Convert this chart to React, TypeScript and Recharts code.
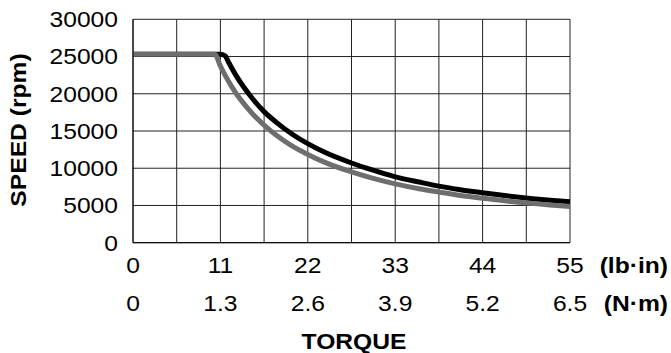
import { CartesianGrid, Line, LineChart, XAxis, YAxis } from "recharts";

const torqueTicks = [0, 5.5, 11, 16.5, 22, 27.5, 33, 38.5, 44, 49.5, 55];
const lbInLabels = ["0", "11", "22", "33", "44", "55"];
const nmLabels = ["0", "1.3", "2.6", "3.9", "5.2", "6.5"];
const speedTicks = [0, 5000, 10000, 15000, 20000, 25000, 30000];

const blackTorque = [0, 11, 11.6, 12, 13, 14, 15, 16.5, 18, 20, 22, 24, 27.5, 30, 33, 36, 38.5, 41, 44, 47, 50, 52.5, 55];
const blackSpeed = [25300, 25300, 25100, 24300, 22400, 20800, 19400, 17600, 16200, 14600, 13300, 12200, 10700, 9800, 8850, 8150, 7600, 7150, 6700, 6300, 5950, 5700, 5500];

const grayTorque = [0, 10.3, 11, 12, 13, 14, 15, 16.5, 18, 20, 22, 24, 27.5, 30, 33, 36, 38.5, 41, 44, 47, 50, 52.5, 55];
const graySpeed = [25300, 25300, 23700, 21700, 20000, 18600, 17350, 15800, 14450, 13000, 11850, 10850, 9500, 8700, 7900, 7250, 6800, 6380, 5980, 5600, 5300, 5050, 4850];

const blackData = blackTorque.map((t, i) => ({ torque: t, speed: blackSpeed[i] }));
const grayData = grayTorque.map((t, i) => ({ torque: t, speed: graySpeed[i] }));

const FONT = '"Liberation Sans", Arial, Helvetica, sans-serif';
const STRETCH = 1.12;
const FS = 22;

function YTick(props: any) {
  const { y, payload } = props;
  return (
    <g transform={`translate(118, ${y}) scale(${STRETCH},1)`}>
      <text x={0} y={0} dy="0.36em" textAnchor="end" fontFamily={FONT} fontSize={FS} fill="#000">
        {payload.value}
      </text>
    </g>
  );
}

function XTick(props: any) {
  const { x, index } = props;
  if (index % 2 !== 0) return <g />;
  const k = index / 2;
  return (
    <g>
      <g transform={`translate(${x}, 272.5) scale(${STRETCH},1)`}>
        <text x={0} y={0} textAnchor="middle" fontFamily={FONT} fontSize={FS} fill="#000">
          {lbInLabels[k]}
        </text>
      </g>
      <g transform={`translate(${x}, 311) scale(${STRETCH},1)`}>
        <text x={0} y={0} textAnchor="middle" fontFamily={FONT} fontSize={FS} fill="#000">
          {nmLabels[k]}
        </text>
      </g>
    </g>
  );
}

export default function App() {
  return (
    <div style={{ position: "absolute", left: 0, top: 0, width: 671, height: 353, background: "#fff" }}>
      <LineChart
        width={671}
        height={353}
        margin={{ top: 19.3, right: 101, left: 0, bottom: 0 }}
      >
        <CartesianGrid stroke="#222" strokeWidth={1} />
        <XAxis
          dataKey="torque"
          type="number"
          domain={[0, 55]}
          ticks={torqueTicks}
          interval={0}
          tick={<XTick />}
          tickLine={false}
          axisLine={{ stroke: "#000" }}
          height={110.3}
          allowDuplicatedCategory={false}
        />
        <YAxis
          type="number"
          domain={[0, 30000]}
          ticks={speedTicks}
          interval={0}
          tick={<YTick />}
          tickLine={false}
          axisLine={{ stroke: "#000" }}
          width={133}
        />
        <Line
          data={blackData}
          dataKey="speed"
          type="monotone"
          stroke="#000"
          strokeWidth={5}
          dot={false}
          isAnimationActive={false}
        />
        <Line
          data={grayData}
          dataKey="speed"
          type="monotone"
          stroke="#6e6e6e"
          strokeWidth={5}
          dot={false}
          isAnimationActive={false}
        />
      </LineChart>
      <svg
        width={671}
        height={353}
        style={{ position: "absolute", left: 0, top: 0, pointerEvents: "none" }}
      >
        <g transform={`translate(668, 272.5) scale(${STRETCH},1)`}>
          <text textAnchor="end" fontFamily={FONT} fontSize={FS} fontWeight="bold" fill="#000">
            (lb·in)
          </text>
        </g>
        <g transform={`translate(668, 311) scale(${STRETCH},1)`}>
          <text textAnchor="end" fontFamily={FONT} fontSize={FS} fontWeight="bold" fill="#000">
            (N·m)
          </text>
        </g>
        <g transform={`translate(354, 349) scale(${STRETCH},1)`}>
          <text textAnchor="middle" fontFamily={FONT} fontSize={FS} fontWeight="bold" fill="#000">
            TORQUE
          </text>
        </g>
        <g transform={`translate(26, 130) rotate(-90) scale(${STRETCH},1)`}>
          <text textAnchor="middle" fontFamily={FONT} fontSize={FS} fontWeight="bold" fill="#000">
            SPEED (rpm)
          </text>
        </g>
      </svg>
    </div>
  );
}
